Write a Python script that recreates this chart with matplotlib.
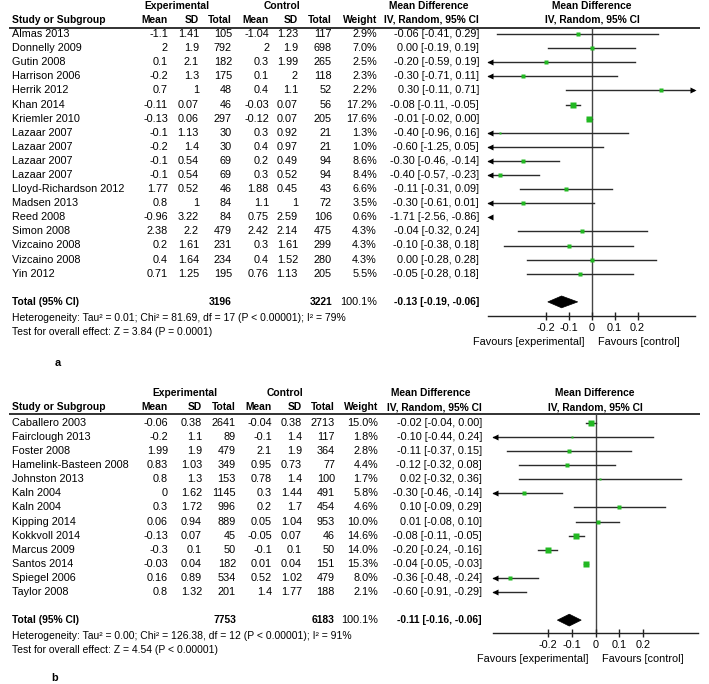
import matplotlib
matplotlib.use("Agg")
import matplotlib.pyplot as plt
from matplotlib.patches import Polygon
import numpy as np

plt.rcParams['font.family'] = ['Liberation Sans', 'DejaVu Sans']

# ---------------- Panel a data ----------------
studies_a = ["Almas 2013", "Donnelly 2009", "Gutin 2008", "Harrison 2006", "Herrik 2012",
             "Khan 2014", "Kriemler 2010", "Lazaar 2007", "Lazaar 2007", "Lazaar 2007",
             "Lazaar 2007", "Lloyd-Richardson 2012", "Madsen 2013", "Reed 2008",
             "Simon 2008", "Vizcaino 2008", "Vizcaino 2008", "Yin 2012"]
exp_mean_a = ["-1.1", "2", "0.1", "-0.2", "0.7", "-0.11", "-0.13", "-0.1", "-0.2", "-0.1",
              "-0.1", "1.77", "0.8", "-0.96", "2.38", "0.2", "0.4", "0.71"]
exp_sd_a = ["1.41", "1.9", "2.1", "1.3", "1", "0.07", "0.06", "1.13", "1.4", "0.54",
            "0.54", "0.52", "1", "3.22", "2.2", "1.61", "1.64", "1.25"]
exp_n_a = [105, 792, 182, 175, 48, 46, 297, 30, 30, 69, 69, 46, 84, 84, 479, 231, 234, 195]
ctl_mean_a = ["-1.04", "2", "0.3", "0.1", "0.4", "-0.03", "-0.12", "0.3", "0.4", "0.2",
              "0.3", "1.88", "1.1", "0.75", "2.42", "0.3", "0.4", "0.76"]
ctl_sd_a = ["1.23", "1.9", "1.99", "2", "1.1", "0.07", "0.07", "0.92", "0.97", "0.49",
            "0.52", "0.45", "1", "2.59", "2.14", "1.61", "1.52", "1.13"]
ctl_n_a = [117, 698, 265, 118, 52, 56, 205, 21, 21, 94, 94, 43, 72, 106, 475, 299, 280, 205]
weight_a = [2.9, 7.0, 2.5, 2.3, 2.2, 17.2, 17.6, 1.3, 1.0, 8.6, 8.4, 6.6, 3.5, 0.6, 4.3, 4.3, 4.3, 5.5]
md_a = [-0.06, 0.00, -0.20, -0.30, 0.30, -0.08, -0.01, -0.40, -0.60, -0.30, -0.40, -0.11,
        -0.30, -1.71, -0.04, -0.10, 0.00, -0.05]
lo_a = [-0.41, -0.19, -0.59, -0.71, -0.11, -0.11, -0.02, -0.96, -1.25, -0.46, -0.57, -0.31,
        -0.61, -2.56, -0.32, -0.38, -0.28, -0.28]
hi_a = [0.29, 0.19, 0.19, 0.11, 0.71, -0.05, 0.00, 0.16, 0.05, -0.14, -0.23, 0.09,
        0.01, -0.86, 0.24, 0.18, 0.28, 0.18]
total_a = {"exp_n": 3196, "ctl_n": 3221, "md": -0.13, "lo": -0.19, "hi": -0.06}
het_a = "Heterogeneity: Tau\u00b2 = 0.01; Chi\u00b2 = 81.69, df = 17 (P < 0.00001); I\u00b2 = 79%"
test_a = "Test for overall effect: Z = 3.84 (P = 0.0001)"

# ---------------- Panel b data ----------------
studies_b = ["Caballero 2003", "Fairclough 2013", "Foster 2008", "Hamelink-Basteen 2008",
             "Johnston 2013", "Kaln 2004", "Kaln 2004", "Kipping 2014", "Kokkvoll 2014",
             "Marcus 2009", "Santos 2014", "Spiegel 2006", "Taylor 2008"]
exp_mean_b = ["-0.06", "-0.2", "1.99", "0.83", "0.8", "0", "0.3", "0.06", "-0.13", "-0.3",
              "-0.03", "0.16", "0.8"]
exp_sd_b = ["0.38", "1.1", "1.9", "1.03", "1.3", "1.62", "1.72", "0.94", "0.07", "0.1",
            "0.04", "0.89", "1.32"]
exp_n_b = [2641, 89, 479, 349, 153, 1145, 996, 889, 45, 50, 182, 534, 201]
ctl_mean_b = ["-0.04", "-0.1", "2.1", "0.95", "0.78", "0.3", "0.2", "0.05", "-0.05", "-0.1",
              "0.01", "0.52", "1.4"]
ctl_sd_b = ["0.38", "1.4", "1.9", "0.73", "1.4", "1.44", "1.7", "1.04", "0.07", "0.1",
            "0.04", "1.02", "1.77"]
ctl_n_b = [2713, 117, 364, 77, 100, 491, 454, 953, 46, 50, 151, 479, 188]
weight_b = [15.0, 1.8, 2.8, 4.4, 1.7, 5.8, 4.6, 10.0, 14.6, 14.0, 15.3, 8.0, 2.1]
md_b = [-0.02, -0.10, -0.11, -0.12, 0.02, -0.30, 0.10, 0.01, -0.08, -0.20, -0.04, -0.36, -0.60]
lo_b = [-0.04, -0.44, -0.37, -0.32, -0.32, -0.46, -0.09, -0.08, -0.11, -0.24, -0.05, -0.48, -0.91]
hi_b = [0.00, 0.24, 0.15, 0.08, 0.36, -0.14, 0.29, 0.10, -0.05, -0.16, -0.03, -0.24, -0.29]
total_b = {"exp_n": 7753, "ctl_n": 6183, "md": -0.11, "lo": -0.16, "hi": -0.06}
het_b = "Heterogeneity: Tau\u00b2 = 0.00; Chi\u00b2 = 126.38, df = 12 (P < 0.00001); I\u00b2 = 91%"
test_b = "Test for overall effect: Z = 4.54 (P < 0.00001)"

xticks = [-0.2, -0.1, 0, 0.1, 0.2]
tick_labels = ["-0.2", "-0.1", "0", "0.1", "0.2"]

W, H = 709, 684
fig = plt.figure(figsize=(W / 100, H / 100), dpi=100)
bg = fig.add_axes([0, 0, 1, 1])
bg.set_xlim(0, W)
bg.set_ylim(H, 0)
bg.axis("off")

FS = 7.8
FSB = 7.4
FSH = 7.5
GREEN = "#22b822"
LINEC = "#2b2b2b"


def draw_panel(L, studies, em, esd, en, cm, csd, cn, wt, md, lo, hi, tot, het, test, label):
    n = len(studies)
    y0, dy = L["y0"], L["dy"]
    cols = L["cols"]
    # header
    bg.text(L["exp_c"], L["h1"], "Experimental", ha="center", va="center", fontsize=FSB, fontweight="bold")
    bg.text(L["ctl_c"], L["h1"], "Control", ha="center", va="center", fontsize=FSB, fontweight="bold")
    bg.text(L["md_c"], L["h1"], "Mean Difference", ha="center", va="center", fontsize=FSB, fontweight="bold")
    bg.text(L["fp_c"], L["h1"], "Mean Difference", ha="center", va="center", fontsize=FSB, fontweight="bold")
    bg.text(12, L["h2"], "Study or Subgroup", ha="left", va="center", fontsize=FSB, fontweight="bold")
    for x, t in zip(cols[:7], ["Mean", "SD", "Total", "Mean", "SD", "Total", "Weight"]):
        bg.text(x, L["h2"], t, ha="right", va="center", fontsize=FSB, fontweight="bold")
    bg.text(cols[7], L["h2"], "IV, Random, 95% CI", ha="right", va="center", fontsize=FSB, fontweight="bold")
    bg.text(L["fp_c"], L["h2"], "IV, Random, 95% CI", ha="center", va="center", fontsize=FSB, fontweight="bold")
    bg.plot([9, 700], [L["line"], L["line"]], color="#222222", lw=1.3, solid_capstyle="butt")
    # rows
    for i in range(n):
        y = y0 + i * dy
        bg.text(12, y, studies[i], ha="left", va="center", fontsize=FS)
        vals = [em[i], esd[i], str(en[i]), cm[i], csd[i], str(cn[i]),
                f"{wt[i]:.1f}%", f"{md[i]:.2f} [{lo[i]:.2f}, {hi[i]:.2f}]"]
        for x, v in zip(cols, vals):
            bg.text(x, y, v, ha="right", va="center", fontsize=FS)
    yt = y0 + (n + 1) * dy
    bg.text(12, yt, "Total (95% CI)", ha="left", va="center", fontsize=FSB, fontweight="bold")
    bg.text(cols[2], yt, str(tot["exp_n"]), ha="right", va="center", fontsize=FSB, fontweight="bold")
    bg.text(cols[5], yt, str(tot["ctl_n"]), ha="right", va="center", fontsize=FSB, fontweight="bold")
    bg.text(cols[6], yt, f"{sum(wt):.1f}%", ha="right", va="center", fontsize=FS)
    bg.text(cols[7], yt, f"{tot['md']:.2f} [{tot['lo']:.2f}, {tot['hi']:.2f}]", ha="right",
            va="center", fontsize=FSB, fontweight="bold")
    bg.text(12, L["het"], het, ha="left", va="center", fontsize=FSH)
    bg.text(12, L["het"] + 14, test, ha="left", va="center", fontsize=FSH)
    bg.text(L["lab_x"], L["lab_y"], label, ha="center", va="center", fontsize=FS, fontweight="bold")

    # forest axes
    x_l, x_r = L["ax_x"]
    y_t, y_b = L["line"], L["axis_y"]
    ax = fig.add_axes([x_l / W, 1 - y_b / H, (x_r - x_l) / W, (y_b - y_t) / H])
    ax.patch.set_alpha(0)
    xmin, xmax = L["xlim"]
    ax.set_xlim(xmin, xmax)
    ax.set_ylim((y_b - y0) / dy, (y_t - y0) / dy)
    for s in ["top", "left", "right"]:
        ax.spines[s].set_visible(False)
    ax.spines["bottom"].set_color("#222222")
    ax.spines["bottom"].set_linewidth(1.0)
    ax.set_yticks([])
    ax.set_xticks(xticks)
    ax.set_xticklabels(tick_labels, fontsize=FS)
    ax.tick_params(axis="x", direction="inout", length=6, width=1, color="#222222", pad=2)
    ax.axvline(0, color="#444444", lw=1.0, zorder=1)
    span = xmax - xmin
    for i in range(n):
        ax.plot([lo[i], hi[i]], [i, i], color=LINEC, lw=1.0, zorder=2)
        ms = 0.8 * np.sqrt(wt[i]) + 1.0
        ax.plot([md[i]], [i], marker="s", ms=ms, color=GREEN, mec="none", zorder=3)
        if lo[i] < xmin:
            ax.plot([xmin + 0.012 * span], [i], marker="<", ms=4.2, color="black", mec="none",
                    clip_on=False, zorder=4)
        if hi[i] > xmax:
            ax.plot([xmax - 0.012 * span], [i], marker=">", ms=4.2, color="black", mec="none",
                    clip_on=False, zorder=4)
    it = n + 1
    hh = 0.42
    dia = Polygon([[tot["lo"], it], [tot["md"], it - hh], [tot["hi"], it], [tot["md"], it + hh]],
                  closed=True, facecolor="black", edgecolor="black", lw=0.5, zorder=4)
    ax.add_patch(dia)
    ax.annotate("Favours [experimental]", xy=(0, 0), xycoords=("data", "axes fraction"),
                xytext=(-5, -26 * 0.72), textcoords="offset points", ha="right", va="center",
                fontsize=FS)
    ax.annotate("Favours [control]", xy=(0, 0), xycoords=("data", "axes fraction"),
                xytext=(5, -26 * 0.72), textcoords="offset points", ha="left", va="center",
                fontsize=FS)


LA = dict(y0=34, dy=14.1, h1=6, h2=20, line=27.5, axis_y=316,
          cols=[168, 199, 232, 269, 298, 332, 377, 479],
          exp_c=177, ctl_c=282, md_c=429, fp_c=592,
          het=318, lab_x=58, lab_y=363, ax_x=(488, 695), xlim=(-0.45, 0.45))
LB = dict(y0=423, dy=14.08, h1=393, h2=407, line=414, axis_y=633,
          cols=[168, 202, 236, 272, 302, 335, 378, 482],
          exp_c=185, ctl_c=285, md_c=431, fp_c=595,
          het=636, lab_x=55, lab_y=678, ax_x=(493, 698), xlim=(-0.43, 0.43))

draw_panel(LA, studies_a, exp_mean_a, exp_sd_a, exp_n_a, ctl_mean_a, ctl_sd_a, ctl_n_a,
           weight_a, md_a, lo_a, hi_a, total_a, het_a, test_a, "a")
draw_panel(LB, studies_b, exp_mean_b, exp_sd_b, exp_n_b, ctl_mean_b, ctl_sd_b, ctl_n_b,
           weight_b, md_b, lo_b, hi_b, total_b, het_b, test_b, "b")

fig.savefig("out.png", dpi=100)
